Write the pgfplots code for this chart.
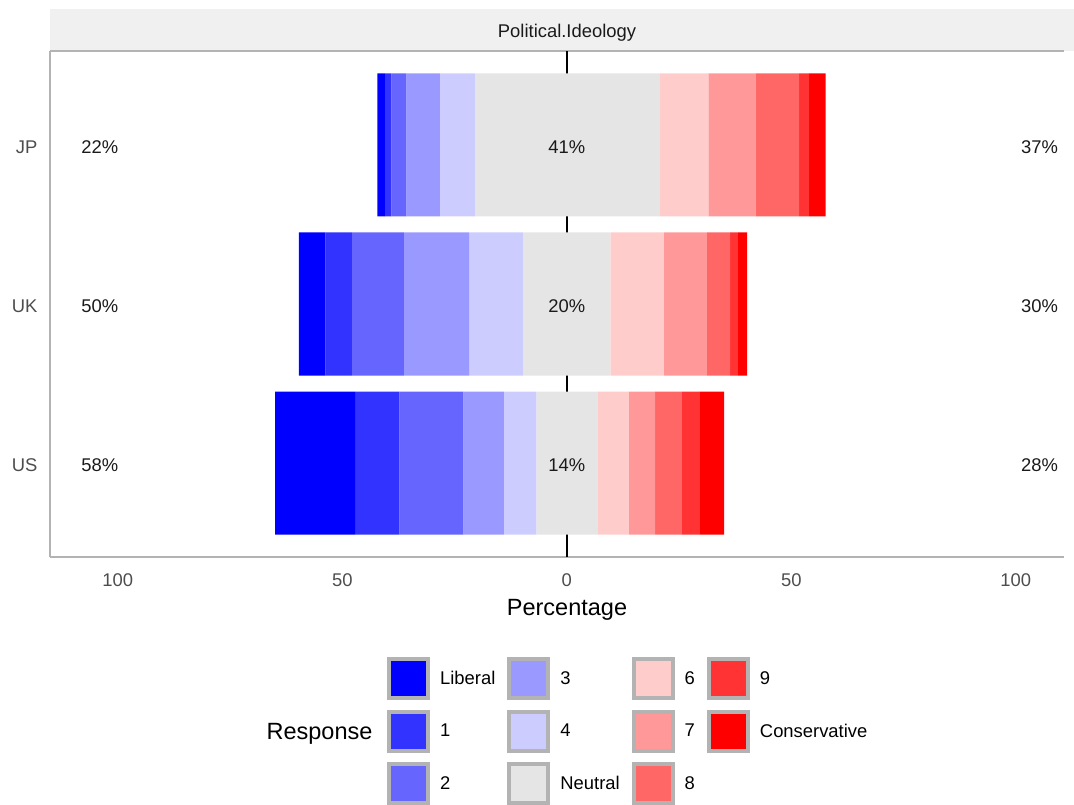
\documentclass[border=0pt]{standalone}
\usepackage{fontspec}
\setmainfont{Liberation Sans}
\usepackage{pgfplots}
\usepackage{pgfplotstable}
\pgfplotsset{compat=1.18}

\definecolor{clib}{HTML}{0000FF}
\definecolor{cone}{HTML}{3333FF}
\definecolor{ctwo}{HTML}{6666FF}
\definecolor{cthree}{HTML}{9999FF}
\definecolor{cfour}{HTML}{CCCCFF}
\definecolor{cneu}{HTML}{E5E5E5}
\definecolor{csix}{HTML}{FFCCCC}
\definecolor{cseven}{HTML}{FF9999}
\definecolor{ceight}{HTML}{FF6666}
\definecolor{cnine}{HTML}{FF3333}
\definecolor{ccons}{HTML}{FF0000}
\definecolor{keygray}{HTML}{B3B3B3}
\definecolor{stripgray}{HTML}{F0F0F0}
\definecolor{ticktext}{HTML}{4D4D4D}
\definecolor{labtext}{HTML}{1A1A1A}

% width of each response segment (percent), off = left end of the bar
\pgfplotstableread{
y off    lib   r1   r2    r3    r4    neu   r6    r7    r8   r9   cons
3 -42.16 1.63  1.49 3.34  7.41  7.80  41.20 10.85 10.47 9.71 2.22 3.72
2 -59.69 5.95  5.86 11.58 14.54 11.96 19.53 11.87 9.58  5.19 1.72 2.07
1 -64.97 17.82 9.89 14.25 8.98  7.28  13.65 6.91  5.86  5.94 4.01 5.41
}\likert

\newcommand\smallfont{\fontsize{18.4}{22}\selectfont}
\newcommand\bigfont{\fontsize{23.5}{28}\selectfont}

\begin{document}
\begin{tikzpicture}[x=1pt,y=1pt]
\useasboundingbox (0,0) rectangle (1074,-805);
% facet strip
\fill[stripgray] (50,-9) rectangle (1074,-51);
\node[text=labtext, font=\smallfont] at (567,-33) {Political.Ideology};

\begin{axis}[
  at={(50pt,-557pt)}, anchor=south west,
  scale only axis, width=1013.8pt, height=506pt,
  xbar stacked, stack negative=on previous, bar width=0.9,
  xmin=-115.1, xmax=110.7, ymin=0.41, ymax=3.59,
  axis x line*=box, axis y line*=left,
  axis line style={draw=keygray, line width=2pt},
  xtick={-100,-50,0,50,100}, xticklabels={100,50,0,50,100},
  ytick={1,2,3}, yticklabels={US,UK,JP},
  major tick length=0pt,
  tick label style={font=\smallfont, text=ticktext},
  /pgf/number format/assume math mode=true,
  xticklabel style={yshift=-13pt},
  yticklabel style={xshift=-9pt, yshift=-2pt},
  xlabel={Percentage},
  x label style={at={(axis description cs:0.51,0)}, anchor=center, yshift=-53pt, font=\bigfont, text=black},
  extra x ticks={0}, extra x tick labels={},
  extra x tick style={grid=major, major grid style={black, line width=1.5pt}},
  legend image code/.code={\draw[#1, draw=keygray, line width=4pt] (2pt,-19.5pt) rectangle (41pt,19.5pt);},
  transpose legend, legend columns=3, legend cell align=left,
  legend style={at={(axis description cs:0.3324,-0.1976)}, anchor=north west,
    draw=none, fill=none, inner sep=0pt, row sep=9.5pt,
    nodes={inner sep=0pt, font=\smallfont, text=black},
    /tikz/every odd column/.append style={column sep=10pt},
    /tikz/every even column/.append style={column sep=12pt}},
]
\addplot[draw=none, fill=none, forget plot] table[x=off, y=y] {\likert};
\addplot[draw=none, fill=clib]   table[x=lib,  y=y] {\likert}; \addlegendentry{Liberal}
\addplot[draw=none, fill=cone]   table[x=r1,   y=y] {\likert}; \addlegendentry{1}
\addplot[draw=none, fill=ctwo]   table[x=r2,   y=y] {\likert}; \addlegendentry{2}
\addplot[draw=none, fill=cthree] table[x=r3,   y=y] {\likert}; \addlegendentry{3}
\addplot[draw=none, fill=cfour]  table[x=r4,   y=y] {\likert}; \addlegendentry{4}
\addplot[draw=none, fill=cneu]   table[x=neu,  y=y] {\likert}; \addlegendentry{Neutral}
\addplot[draw=none, fill=csix]   table[x=r6,   y=y] {\likert}; \addlegendentry{6}
\addplot[draw=none, fill=cseven] table[x=r7,   y=y] {\likert}; \addlegendentry{7}
\addplot[draw=none, fill=ceight] table[x=r8,   y=y] {\likert}; \addlegendentry{8}
\addplot[draw=none, fill=cnine]  table[x=r9,   y=y] {\likert}; \addlegendentry{9}
\addplot[draw=none, fill=ccons]  table[x=cons, y=y] {\likert}; \addlegendentry{Conservative}

% label anchors (left, middle, right of each row)
\coordinate (L3) at (axis cs:-104,3); \coordinate (M3) at (axis cs:0,3); \coordinate (R3) at (axis cs:105.3,3);
\coordinate (L2) at (axis cs:-104,2); \coordinate (M2) at (axis cs:0,2); \coordinate (R2) at (axis cs:105.3,2);
\coordinate (L1) at (axis cs:-104,1); \coordinate (M1) at (axis cs:0,1); \coordinate (R1) at (axis cs:105.3,1);
\end{axis}

\begin{scope}[every node/.style={font=\smallfont, text=labtext, yshift=-2pt}]
\node at (L3) {22\%}; \node at (M3) {41\%}; \node at (R3) {37\%};
\node at (L2) {50\%}; \node at (M2) {20\%}; \node at (R2) {30\%};
\node at (L1) {58\%}; \node at (M1) {14\%}; \node at (R1) {28\%};
\end{scope}

\node[anchor=east, font=\bigfont, text=black] at (376,-734) {Response};
\end{tikzpicture}
\end{document}
